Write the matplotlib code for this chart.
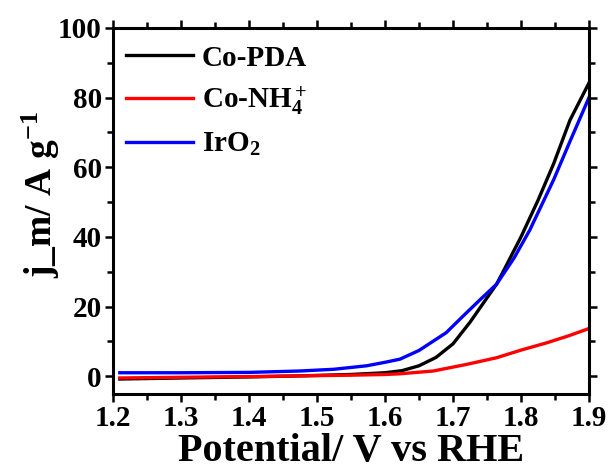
import matplotlib
matplotlib.use('Agg')
import numpy as np
import matplotlib.pyplot as plt
from matplotlib.ticker import MultipleLocator

v_pda = [1.21, 1.3, 1.4, 1.475, 1.55, 1.6, 1.625, 1.65, 1.675, 1.7, 1.725, 1.75,
         1.764, 1.775, 1.8, 1.825, 1.848, 1.872, 1.9]
j_pda = [-0.8, -0.5, -0.2, 0.1, 0.5, 1.0, 1.6, 3.0, 5.4, 9.3, 15.5, 22.5,
         26.4, 30.5, 40.0, 50.5, 61.0, 73.5, 84.2]

v_nh4 = [1.21, 1.3, 1.4, 1.475, 1.55, 1.6, 1.622, 1.671, 1.72, 1.764, 1.8,
         1.838, 1.87, 1.9]
j_nh4 = [-0.5, -0.3, -0.1, 0.1, 0.3, 0.5, 0.7, 1.5, 3.4, 5.3, 7.5,
         9.6, 11.6, 13.7]

v_iro2 = [1.21, 1.3, 1.4, 1.475, 1.525, 1.573, 1.6, 1.622, 1.65, 1.69, 1.715,
          1.74, 1.764, 1.79, 1.813, 1.848, 1.872, 1.9]
j_iro2 = [1.0, 1.0, 1.1, 1.5, 2.0, 3.0, 4.0, 4.9, 7.4, 12.5, 17.3,
          22.0, 26.4, 34.0, 42.0, 56.4, 67.4, 80.0]

labels = ['Co-PDA', 'Co-NH$_4^+$', 'IrO$_2$']
colors = ['black', 'red', 'blue']

plt.rcParams['font.family'] = 'Liberation Serif'
plt.rcParams['font.weight'] = 'bold'
plt.rcParams['mathtext.fontset'] = 'custom'
plt.rcParams['mathtext.rm'] = 'Liberation Serif:bold'
plt.rcParams['mathtext.it'] = 'Liberation Serif:bold'
plt.rcParams['mathtext.bf'] = 'Liberation Serif:bold'

fig = plt.figure(figsize=(6.11, 4.72), dpi=100)
ax = fig.add_axes([0.185, 0.166, 0.779, 0.775])

for v, j, lab, c in zip([v_pda, v_nh4, v_iro2], [j_pda, j_nh4, j_iro2], labels, colors):
    ax.plot(v, j, color=c, lw=2.4, label=lab)

ax.set_xlim(1.2, 1.9)
ax.set_ylim(-5, 100)
ax.xaxis.set_major_locator(MultipleLocator(0.1))
ax.xaxis.set_minor_locator(MultipleLocator(0.05))
ax.yaxis.set_major_locator(MultipleLocator(20))
ax.yaxis.set_minor_locator(MultipleLocator(10))

for s in ax.spines.values():
    s.set_linewidth(2.2)

ax.tick_params(which='both', direction='out', width=1.8, top=True, right=True,
               labelsize=21, pad=2)
ax.tick_params(which='major', length=6)
ax.tick_params(which='minor', length=4)

ax.set_xlabel('Potential/ V vs RHE', fontsize=29, fontweight='bold', labelpad=1)
ax.set_ylabel('j_m/ A g$^{-1}$', fontsize=27, fontweight='bold')
ax.yaxis.set_label_coords(-0.108, 0.545)

ax.legend(loc='upper left', bbox_to_anchor=(-0.022, 1.018), frameon=False, fontsize=21,
          handlelength=2.3, handletextpad=0.3, labelspacing=0.45, borderaxespad=0.4)

fig.savefig('out.png', dpi=100)
